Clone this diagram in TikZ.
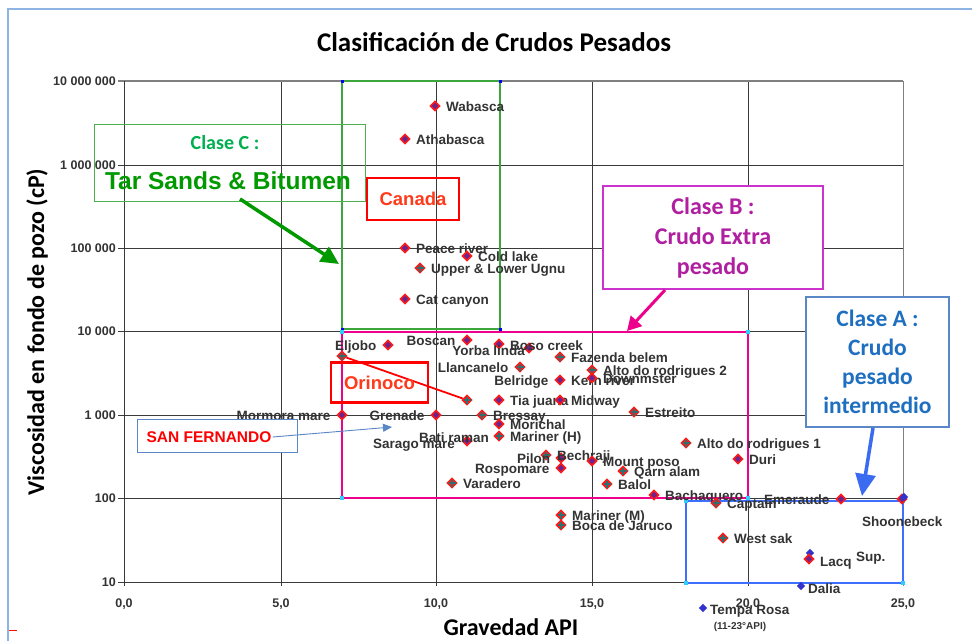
\documentclass[tikz,border=0pt]{standalone}
\usepackage{fontspec}
\setmainfont{Liberation Sans}
\newfontfamily\calibri{Carlito}
\usetikzlibrary{arrows.meta,shapes.geometric}
\definecolor{labgray}{HTML}{333333}
\definecolor{gridc}{HTML}{3A3A3A}
\definecolor{mred}{HTML}{FF1A1A}
\definecolor{mpurp}{HTML}{6B238E}
\definecolor{mteal}{HTML}{2F6F6F}
\definecolor{mblue}{HTML}{3333CC}
\definecolor{greg}{HTML}{3DA53D}
\definecolor{gbox}{HTML}{4DB04D}
\definecolor{gtxtA}{HTML}{00B050}
\definecolor{gtxtB}{HTML}{009A00}
\definecolor{garrow}{HTML}{009900}
\definecolor{breg}{HTML}{3F6FFF}
\definecolor{bbox}{HTML}{5A87C5}
\definecolor{btxt}{HTML}{1F6FC0}
\definecolor{barrow}{HTML}{3A6BF0}
\definecolor{pbox}{HTML}{CC33CC}
\definecolor{ptxt}{HTML}{AF1FA0}
\definecolor{cantxt}{HTML}{FF3A1A}
\definecolor{framec}{HTML}{8DB4E2}
\definecolor{cornc}{HTML}{33CCFF}
\tikzset{
  gridl/.style={draw=gridc, line width=1pt},
  mkbase/.style={diamond, fill=mred, inner sep=0pt, minimum size=11.5pt},
  mkP/.style={mkbase, path picture={\fill[mpurp] (path picture bounding box.center) ++(-3.2,0) -- ++(3.2,3.2) -- ++(3.2,-3.2) -- ++(-3.2,-3.2) -- cycle;}},
  mkT/.style={mkbase, path picture={\draw[mteal, line width=1.3pt] (path picture bounding box.center) ++(-3.5,0) -- ++(7,0) ++(-3.5,-3.5) -- ++(0,7);}},
  mkB/.style={diamond, fill=mblue, inner sep=0pt, minimum size=8.5pt},
  lbl/.style={font=\bfseries\fontsize{13.5}{15}\selectfont, text=labgray, inner sep=0pt},
  tick/.style={font=\bfseries\fontsize{12.5}{14}\selectfont, text=labgray, inner sep=0pt},
  corner/.style={fill=#1, minimum size=4pt, inner sep=0pt, rectangle},
}
\newcommand\DataN[4]{\node[mk#4] (m#1) at (#2,#3) {};}
\newcommand\DataR[5]{\node[mk#4] (m#1) at (#2,#3) {};
  \path (m#1.center) ++(11,5.5) node[lbl,anchor=base west] (l#1) {#5};}
\newcommand\DataL[5]{\node[mk#4] (m#1) at (#2,#3) {};
  \path (m#1.center) ++(-11.5,5.5) node[lbl,anchor=base east] (l#1) {#5};}
\begin{document}
\begin{tikzpicture}[x=1pt,y=-1pt]
\useasboundingbox (0,0) rectangle (972,641);
\fill[white] (0,0) rectangle (972,641);
% slide frame
\draw[framec, line width=1.2pt] (972,9) -- (8,9) -- (8,641);
\draw[red!90!orange, line width=1pt] (9,630) -- (17,630);

% title
\node[font=\calibri\bfseries\fontsize{27}{30}\selectfont] (title) at (494,42) {Clasificación de Crudos Pesados};
\node[font=\calibri\bfseries\fontsize{24}{28}\selectfont, rotate=90] (ytitle) at (37,332) {Viscosidad en fondo de pozo (cP)};
\node[font=\calibri\bfseries\fontsize{24}{28}\selectfont] (xtitle) at (511,627) {Gravedad API};

% grid
\foreach \gx in {281,436,592,748} \draw[gridl] (\gx,81) -- (\gx,586);
\draw[draw=gray, line width=1pt] (903,81) -- (903,586);
\foreach \gy in {165,248,331,415,498} \draw[gridl] (118,\gy) -- (903,\gy);
\draw[draw=gray, line width=1.5pt] (118,81) -- (903,81);
\draw[gridl] (124,81) -- (124,586);
\draw[gridl] (118,582) -- (903,582);

% tick labels
\foreach \ty/\tt in {81/10 000 000,165/1 000 000,248/100 000,331/10 000,415/1 000,498/100,582/10}
  \node[tick, anchor=east] at (116,\ty) {\tt};
\foreach \tx/\tt in {124/{0,0},281/{5,0},436/{10,0},592/{15,0},748/{20,0},903/{25,0}}
  \node[tick] at (\tx,604) {\tt};

% class regions
\draw[greg, line width=2pt] (342,81) rectangle (500,329);
\draw[magenta, line width=2.5pt] (342,332) rectangle (748,498);
\draw[breg, line width=2.5pt] (686,501) rectangle (903,583);
\foreach \cx/\cy in {342/81,500/81,342/329,500/329}
  \node[corner=blue, minimum size=3pt] at (\cx,\cy) {};
\foreach \cx/\cy in {342/332,748/332,342/498,748/498,686/501,903/501,686/583,903/583}
  \node[corner=cornc] at (\cx,\cy) {};

% data points
\DataR{Wab}{435}{106}{P}{Wabasca}
\DataR{Ath}{405}{139}{P}{Athabasca}
\DataR{Pea}{405}{248}{P}{Peace river}
\DataR{Col}{467}{256}{P}{Cold lake}
\DataR{Ugn}{420}{268}{T}{Upper \& Lower Ugnu}
\DataR{Cat}{405}{299}{P}{Cat canyon}
\DataL{Elj}{388}{345}{P}{Eljobo}
\DataN{Ori}{342}{356}{T}
\DataL{Bos}{467}{340}{P}{Boscan}
\DataN{Yor}{499}{344}{P}
\node[lbl,anchor=base east] (lYor) at (525,355) {Yorba linda};
\DataN{Pos}{529}{348}{P}
\node[lbl,anchor=base west] (lPos) at (510,350) {Boso creek};
\DataL{Lla}{520}{367}{T}{Llancanelo}
\DataR{Faz}{560}{357}{T}{Fazenda belem}
\DataL{Bel}{560}{380}{P}{Belridge}
\path (mBel.center) ++(11,5.5) node[lbl,anchor=base west] (lKer) {Kern river};
\DataR{Altb}{592}{370}{T}{Alto do rodrigues 2}
\DataR{Dow}{592}{378}{P}{Downmster}
\DataN{Orx}{467}{400}{T}
\DataR{Tia}{499}{400}{P}{Tia juana}
\DataR{Mid}{560}{400}{P}{Midway}
\DataR{Est}{634}{412}{T}{Estreito}
\DataL{Mor}{342}{415}{P}{Mormora mare}
\DataL{Gre}{436}{415}{P}{Grenade}
\DataR{Bre}{482}{415}{T}{Bressay}
\DataR{Mch}{499}{424}{P}{Morichal}
\DataN{Bat}{467}{441}{P}
\node[lbl,anchor=base west] (lBat) at (419,442) {Bati raman};
\node[lbl,anchor=base west] (lSar) at (373,448) {Sarago mare};
\DataR{MaH}{499}{436}{T}{Mariner (H)}
\DataN{Pil}{546}{455}{T}
\node[lbl,anchor=base west] (lPil) at (517,463) {Pilon};
\DataN{Bec}{561}{458}{P}
\node[lbl,anchor=base west] (lBec) at (557,460) {Bechraji};
\DataR{Mou}{592}{461}{P}{Mount poso}
\DataL{Ros}{561}{468}{P}{Rospomare}
\DataR{Qar}{623}{471}{T}{Qarn alam}
\DataR{Var}{452}{483}{T}{Varadero}
\DataR{Bal}{607}{484}{T}{Balol}
\DataR{Alta}{686}{443}{T}{Alto do rodrigues 1}
\DataR{Dur}{738}{459}{P}{Duri}
\DataR{Bac}{654}{495}{P}{Bachaquero}
\DataR{Cap}{716}{503}{T}{Captain}
\DataL{Eme}{841}{499}{P}{Emeraude}
\DataN{Shr}{902}{499}{P}
\DataN{Sho}{904}{497}{B}
\node[lbl,anchor=base west] (lSho) at (862,526) {Shoonebeck};
\DataR{MaM}{561}{515}{T}{Mariner (M)}
\DataR{Boc}{561}{525}{T}{Boca de Jaruco}
\DataR{Wes}{723}{538}{T}{West sak}
\DataN{Lab}{810}{553}{B}
\DataN{Lac}{809}{559}{P}
\node[lbl,anchor=base west] (lLac) at (820,566) {Lacq};
\node[lbl,anchor=base west] (lSup) at (856,561) {Sup.};
\DataN{Dal}{801}{586}{B}
\node[lbl,anchor=base west] (lDal) at (808,593) {Dalia};
\DataN{Tem}{703}{608}{B}
\node[lbl,anchor=base west] (lTem) at (710,614) {Tempa Rosa};
\node[font=\bfseries\fontsize{10}{12}\selectfont, text=labgray, inner sep=0pt] (lApi) at (740,627) {(11-23°API)};

% Orinoco link
\draw[red, line width=1.8pt] (mOri) -- (mOrx);

% annotation boxes
\node[draw=gbox, line width=1pt, minimum width=271pt, minimum height=77pt, inner sep=0pt] (boxC) at (229.5,162.5) {};
\node[font=\calibri\bfseries\fontsize{20}{24}\selectfont, text=gtxtA] (tC1) at (225,143) {Clase C :};
\node[font=\bfseries\fontsize{24.5}{28}\selectfont, text=gtxtB] (tC2) at (228,181) {Tar Sands \& Bitumen};
\node[draw=red, line width=2.5pt, minimum width=92pt, minimum height=42pt, inner sep=0pt, font=\bfseries\fontsize{18.5}{22}\selectfont, text=cantxt] (canada) at (413,199) {Canada};
\node[draw=red, line width=2.5pt, minimum width=97pt, minimum height=40pt, inner sep=0pt, font=\bfseries\fontsize{18.5}{22}\selectfont, text=cantxt] (orinoco) at (379.5,382.5) {Orinoco};
\node[draw=pbox, fill=white, line width=1.2pt, minimum width=220pt, minimum height=103pt, inner sep=0pt, align=center, font=\calibri\bfseries\fontsize{24}{30}\selectfont, text=ptxt] (boxB) at (713,237.5) {Clase B :\\Crudo Extra\\pesado};
\node[draw=bbox, fill=white, line width=1.2pt, minimum width=143pt, minimum height=130pt, inner sep=0pt, align=center, font=\calibri\bfseries\fontsize{23.5}{29}\selectfont, text=btxt] (boxA) at (877.5,362) {Clase A :\\Crudo\\pesado\\intermedio};
\node[draw=bbox, fill=white, line width=1pt, minimum width=160pt, minimum height=33pt, inner sep=0pt] (sfbox) at (217,435.5) {};
\node[font=\bfseries\fontsize{15.5}{18}\selectfont, text=red, inner sep=1pt] (sf) at (209,437) {SAN FERNANDO};

% arrows
\coordinate (gA) at (240,199);
\coordinate (gB) at (339,264);
\draw[garrow, line width=3.5pt, -{Triangle[length=18pt,width=17pt]}] (gA) -- (gB);
\coordinate (pA) at (665,290);
\coordinate (pB) at (627,331);
\draw[magenta, line width=3pt, -{Triangle[length=14pt,width=15pt]}] (pA) -- (pB);
\coordinate (bA) at (873,428);
\coordinate (bB) at (862,496);
\draw[barrow, line width=3.5pt, -{Triangle[length=22pt,width=20pt]}] (bA) -- (bB);
\coordinate (sB) at (392,427);
\draw[bbox, line width=0.9pt, -{Triangle[length=9pt,width=8pt]}] (sf.east) -- (sB);
\end{tikzpicture}
\end{document}
